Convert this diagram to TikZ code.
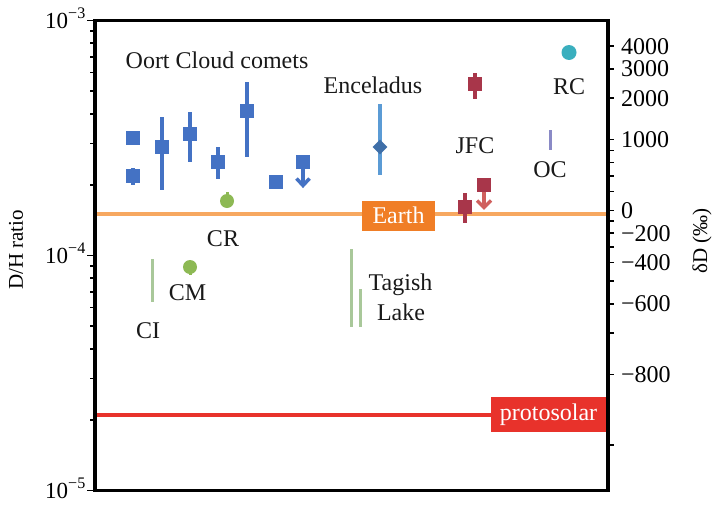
\documentclass[tikz,border=0pt]{standalone}
\usepackage{fontspec}
\setmainfont{Liberation Serif}
\usetikzlibrary{shapes.geometric}
\definecolor{cblue}{HTML}{4472C4}
\definecolor{cenc}{HTML}{5B9BD5}
\definecolor{cencd}{HTML}{3F6FA8}
\definecolor{cgreen}{HTML}{8DB954}
\definecolor{cpale}{HTML}{A9C89A}
\definecolor{cjfc}{HTML}{A8364A}
\definecolor{carrow}{HTML}{D0605E}
\definecolor{coc}{HTML}{8A8AC6}
\definecolor{crc}{HTML}{3AAFBE}
\definecolor{cearthl}{HTML}{F7A860}
\definecolor{cearth}{HTML}{F07E26}
\definecolor{cproto}{HTML}{E8322B}
\tikzset{
  sq/.style={rectangle, fill=#1, minimum size=14pt, inner sep=0pt, draw=none},
  dot/.style={circle, fill=#1, minimum size=14pt, inner sep=0pt, draw=none},
  ebar/.style={draw=#1, line width=4pt},
  thinbar/.style={draw=#1, line width=3pt},
  downarrow/.style={draw=#1, line width=3.5pt, line join=miter},
  lbl/.style={anchor=base, inner sep=0pt, text=black!90},
  tick/.style={line width=1.6pt},
  refline/.style={draw=#1, line width=3.5pt},
  tag/.style={fill=#1, text=white, inner sep=0pt},
}
\begin{document}
\begin{tikzpicture}[x=1pt,y=-1pt,font=\fontsize{24}{26}\selectfont]
\useasboundingbox (0,0) rectangle (717,506);
% reference lines
\coordinate (eL) at (95,214); \coordinate (eR) at (608,214);
\coordinate (pL) at (95,415); \coordinate (pR) at (608,415);
\draw[refline=cearthl] (eL) -- (eR);
\draw[refline=cproto] (pL) -- (pR);
\node[tag=cearth, minimum width=73pt, minimum height=30pt] (earth) at (398.5,215.5) {Earth};
\node[tag=cproto, minimum width=115pt, minimum height=35pt] (proto) at (548.5,414.5) {protosolar};
% frame
\draw[line width=3.2pt] (95,20.5) rectangle (608,490.5);
% left ticks
\foreach \yy in {20.5,255.5,490.5} \draw[tick] (95,\yy) -- (87,\yy);
\foreach \k in {2,...,9} {
  \pgfmathsetmacro\yy{20.5+(1-ln(\k)/ln(10))*235}
  \draw[tick] (95,\yy) -- (90,\yy);
  \draw[tick] (95,\yy+235) -- (90,\yy+235);
}
% right ticks
\foreach \v in {4000,3000,2000,1000,800,600,400,200,0,-100,-200,-300,-400,-500,-600,-700,-800,-900} {
  \pgfmathsetmacro\yy{210.3-235*ln(1+\v/1000)/ln(10)}
  \draw[tick] (608,\yy) -- (614,\yy);
}
\foreach \v/\t in {4000/4000,3000/3000,2000/2000,1000/1000,0/0,-200/−200,-400/−400,-600/−600,-800/−800} {
  \pgfmathsetmacro\yy{210.3-235*ln(1+\v/1000)/ln(10)}
  \node[anchor=base west, inner sep=0pt] at (621,\yy+8) {\t};
}
% left labels
\node[anchor=base east, inner sep=0pt] (l3) at (86,28) {\fontsize{23}{24}\selectfont 10\textsuperscript{−3}};
\node[anchor=base east, inner sep=0pt] (l4) at (86,263) {\fontsize{23}{24}\selectfont 10\textsuperscript{−4}};
\node[anchor=base east, inner sep=0pt] (l5) at (86,498) {\fontsize{23}{24}\selectfont 10\textsuperscript{−5}};
% axis titles
\node[rotate=90, font=\fontsize{21}{22}\selectfont] (ytitle) at (16,250) {D/H ratio};
\node[rotate=90, font=\fontsize{21}{22}\selectfont] (y2title) at (702,241) {δD (‰)};
% Oort cloud comets
\draw[ebar=cblue] (133,168) -- (133,185);
\draw[ebar=cblue] (162,117) -- (162,190);
\draw[ebar=cblue] (190,112) -- (190,162);
\draw[ebar=cblue] (218,147) -- (218,179);
\draw[ebar=cblue] (247,82) -- (247,157);
\node[sq=cblue] (o1) at (133,138) {};
\node[sq=cblue] (o2) at (133,176) {};
\node[sq=cblue] (o3) at (162,147) {};
\node[sq=cblue] (o4) at (190,134) {};
\node[sq=cblue] (o5) at (218,162) {};
\node[sq=cblue] (o6) at (247,111) {};
\node[sq=cblue] (o7) at (276,182) {};
\node[sq=cblue] (o8) at (303,162) {};
\draw[downarrow=cblue] (o8.south) -- (303,185.5);
\draw[downarrow=cblue] (296.5,178.5) -- (303,185.5) -- (309.5,178.5);
% Enceladus
\draw[ebar=cenc] (380,104) -- (380,175);
\node[diamond, fill=cencd, minimum size=15pt, inner sep=0pt] (enc) at (380,147) {};
% JFC
\draw[ebar=cjfc] (475,73) -- (475,99);
\node[sq=cjfc] (j1) at (475,84) {};
\draw[ebar=cjfc] (465,193) -- (465,223);
\node[sq=cjfc] (j2) at (465,207) {};
\node[sq=cjfc] (j3) at (484,185) {};
\draw[downarrow=carrow] (j3.south) -- (484,207.5);
\draw[downarrow=carrow] (477,200.5) -- (484,207.5) -- (491,200.5);
% OC, RC
\draw[thinbar=coc] (550,130) -- (550,150);
\node[dot=crc, minimum size=15pt] (rc) at (569,52.5) {};
% chondrites
\draw[ebar=cgreen, line width=3pt] (227,192) -- (227,200);
\node[dot=cgreen] (cr) at (227,201) {};
\draw[ebar=cgreen, line width=3pt] (190,267) -- (190,275);
\node[dot=cgreen] (cm) at (190,267) {};
\draw[thinbar=cpale] (152,259) -- (152,302);
\draw[thinbar=cpale] (351,249) -- (351,327);
\draw[thinbar=cpale] (360,289) -- (360,327);
% labels
\node[lbl] (toort) at (217,68) {Oort Cloud comets};
\node[lbl] (tenc) at (373,93) {Enceladus};
\node[lbl] (tjfc) at (475,153) {JFC};
\node[lbl] (trc) at (569,94) {RC};
\node[lbl] (toc) at (550,177.5) {OC};
\node[lbl] (tcr) at (223,246.5) {CR};
\node[lbl] (tcm) at (187.5,300.5) {CM};
\node[lbl] (tci) at (148,338) {CI};
\node[lbl] (ttag) at (400.5,290) {Tagish};
\node[lbl] (tlake) at (401,320) {Lake};
\end{tikzpicture}
\end{document}
